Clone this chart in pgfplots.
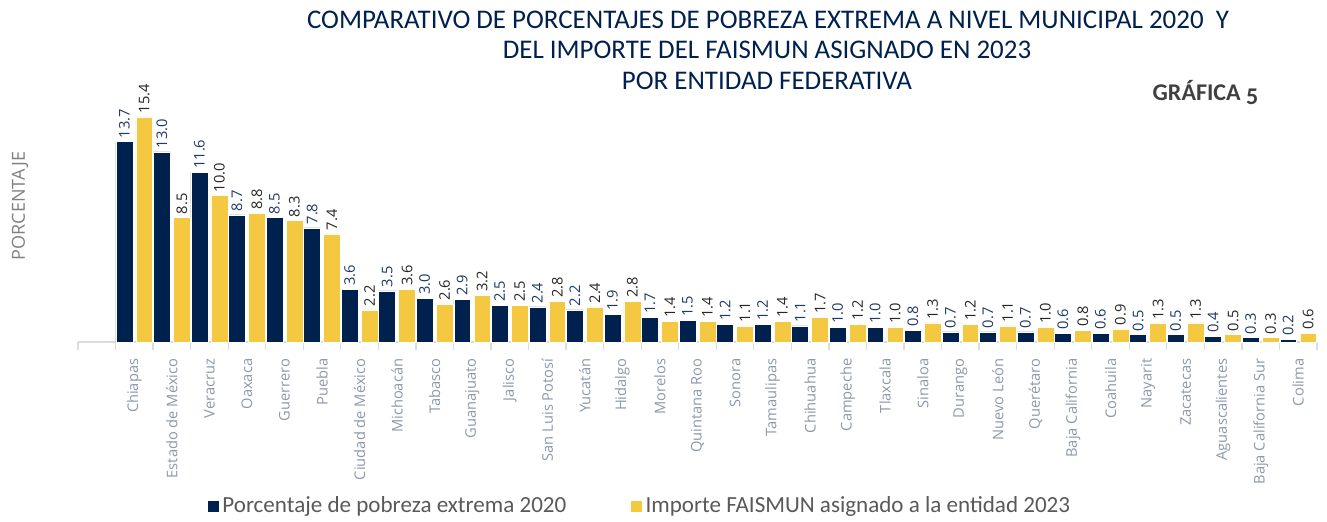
\documentclass[border=0pt]{standalone}
\usepackage{fontspec}
\setmainfont{Open Sans}
\newfontfamily\titlefont{Carlito}
\usepackage{pgfplots}
\usepackage{pgfplotstable}
\pgfplotsset{compat=1.18}

\definecolor{navy}{RGB}{0,32,78}
\definecolor{amarillo}{RGB}{245,200,66}
\definecolor{ticktxt}{RGB}{140,152,170}
\definecolor{ejegris}{RGB}{217,220,225}
\definecolor{navytxt}{RGB}{31,56,100}
\definecolor{legtxt}{RGB}{89,89,89}

% x = posicion de la entidad, p = pobreza extrema 2020, i = importe FAISMUN 2023
\pgfplotstableread{
x p i
1 13.7 15.4
2 13.0 8.5
3 11.6 10.0
4 8.7 8.8
5 8.5 8.3
6 7.8 7.4
7 3.6 2.2
8 3.5 3.6
9 3.0 2.6
10 2.9 3.2
11 2.5 2.5
12 2.4 2.8
13 2.2 2.4
14 1.9 2.8
15 1.7 1.4
16 1.5 1.4
17 1.2 1.1
18 1.2 1.4
19 1.1 1.7
20 1.0 1.2
21 1.0 1.0
22 0.8 1.3
23 0.7 1.2
24 0.7 1.1
25 0.7 1.0
26 0.6 0.8
27 0.6 0.9
28 0.5 1.3
29 0.5 1.3
30 0.4 0.5
31 0.3 0.3
32 0.2 0.6
}\datos

\begin{document}
\begin{tikzpicture}
\useasboundingbox (0,0) rectangle (995.25pt,-390.75pt);
\begin{axis}[
  at={(58.5pt,-256.5pt)}, anchor=south west,
  scale only axis, width=929.25pt, height=175.5pt,
  xmin=-0.5, xmax=32.5, ymin=0, ymax=16,
  ybar, bar width=0.45,
  axis x line*=bottom, axis y line=none,
  axis line style={ejegris, line width=1.1pt, -},
  xtick={1,...,32},
  xticklabels={Chiapas,Estado de México,Veracruz,Oaxaca,Guerrero,Puebla,Ciudad de México,Michoacán,Tabasco,Guanajuato,Jalisco,San Luis Potosí,Yucatán,Hidalgo,Morelos,Quintana Roo,Sonora,Tamaulipas,Chihuahua,Campeche,Tlaxcala,Sinaloa,Durango,Nuevo León,Querétaro,Baja California,Coahuila,Nayarit,Zacatecas,Aguascalientes,Baja California Sur,Colima},
  major tick length=0pt,
  minor xtick={-0.5,0.5,...,32.5},
  minor tick length=6pt, xtick align=outside,
  minor tick style={ejegris, line width=1pt},
  xticklabel style={rotate=90, anchor=east, font=\fontsize{11}{13}\selectfont, text=ticktxt},
  xticklabel shift=9pt,
  ytick=\empty,
  clip=false,
  /pgf/number format/.cd, fixed, fixed zerofill, precision=1, assume math mode=true, /pgfplots/.cd,
  nodes near coords,
  every node near coord/.append style={rotate=90, anchor=west, inner sep=2.5pt, font=\fontsize{11}{13}\selectfont},
  legend style={at={(0.4536,-0.70)}, anchor=center, draw=none, fill=none,
    legend columns=2, font=\titlefont\fontsize{17.3}{20}\selectfont, text=legtxt,
    /tikz/every even column/.append style={column sep=46pt}},
  legend image code/.code={\fill[#1] (0pt,-4.5pt) rectangle (9pt,4.5pt);},
]
\addplot[fill=navy, draw=white, line width=0.4pt, bar shift=-0.266,
  every node near coord/.append style={text=navytxt}] table[x=x, y=p] {\datos};
\addplot[fill=amarillo, draw=white, line width=0.4pt, bar shift=0.266,
  every node near coord/.append style={text=black!85}] table[x=x, y=i] {\datos};
\legend{Porcentaje de pobreza extrema 2020, Importe FAISMUN asignado a la entidad 2023}
\end{axis}

\begin{scope}[x=0.75pt, y=-0.75pt]
\node[anchor=base, text=navy, font=\titlefont\fontsize{20.2}{24}\selectfont] at (768,28) {COMPARATIVO DE PORCENTAJES DE POBREZA EXTREMA A NIVEL MUNICIPAL 2020\ \ Y};
\node[anchor=base, text=navy, font=\titlefont\fontsize{20.2}{24}\selectfont] at (767,58) {DEL IMPORTE DEL FAISMUN ASIGNADO EN 2023};
\node[anchor=base, text=navy, font=\titlefont\fontsize{20.2}{24}\selectfont] at (767,89) {POR ENTIDAD FEDERATIVA};
\node[anchor=base east, text=black!75, font=\titlefont\bfseries\fontsize{18}{21}\selectfont] at (1263,100) {GRÁFICA \raisebox{-3pt}{5}};
\node[rotate=90, anchor=center, text=black!50, font=\fontsize{13.5}{16}\selectfont] at (20,206) {PORCENTAJE};
\end{scope}
\end{tikzpicture}
\end{document}
